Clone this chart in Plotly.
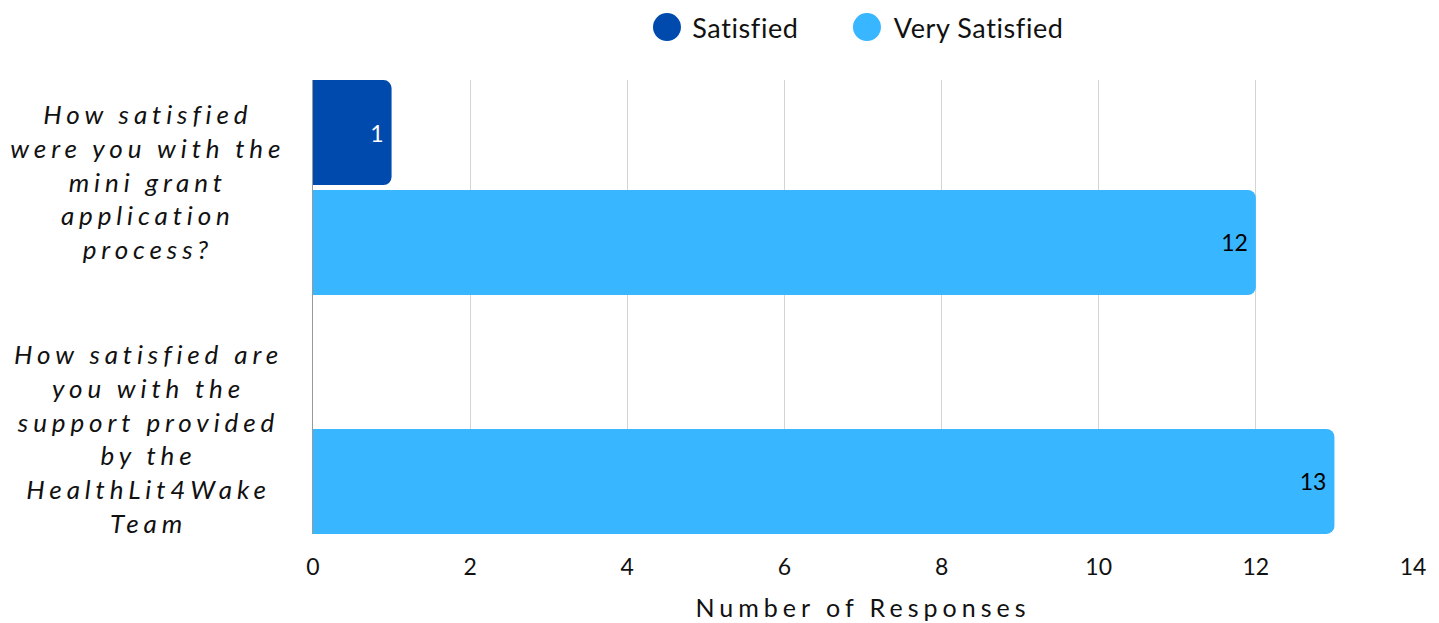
import plotly.graph_objects as go

# ---- data ----
categories = [
    "How satisfied were you with the mini grant application process?",
    "How satisfied are you with the support provided by the HealthLit4Wake Team",
]
category_labels = [
    "How satisfied<br>were you with the<br>mini grant<br>application<br>process?",
    "How satisfied are<br>you with the<br>support provided<br>by the<br>HealthLit4Wake<br>Team",
]
series_names = ["Satisfied", "Very Satisfied"]
satisfied = [1, 0]
very_satisfied = [12, 13]
x_tick_values = [0, 2, 4, 6, 8, 10, 12, 14]
axis_title = "Number of Responses"

colors = ["#004AAD", "#38B6FF"]
text_colors = ["white", "black"]
FONT = "Lato"

fig = go.Figure()
for name, vals, col, tcol in zip(series_names, [satisfied, very_satisfied], colors, text_colors):
    fig.add_trace(go.Bar(
        y=categories, x=vals, orientation="h", name=name,
        marker=dict(color=col, cornerradius=8, line=dict(width=0)),
        text=[str(v) if v else "" for v in vals],
        textposition="inside", insidetextanchor="end", textangle=0,
        textfont=dict(color=tcol, size=23, family=FONT),
        showlegend=False, hoverinfo="x+name",
    ))

annotations = []
# category labels (centered, italic)
label_shift = [6, -12]
for cat, lab, ys in zip(categories, category_labels, label_shift):
    annotations.append(dict(
        xref="paper", yref="y", x=-0.150, y=cat, text=lab, showarrow=False,
        xanchor="center", yanchor="middle", align="center", yshift=ys,
        font=dict(family=FONT, size=26, color="#111", style="italic"),
    ))

# manual legend with circles
shapes = []
legend_circle_x = [0.3218, 0.5036]
legend_text_x = [0.3455, 0.5300]
legend_y = 1.1165
for name, col, cx, tx in zip(series_names, colors, legend_circle_x, legend_text_x):
    shapes.append(dict(
        type="circle", xref="paper", yref="paper",
        xsizemode="pixel", ysizemode="pixel", xanchor=cx, yanchor=legend_y,
        x0=-14, x1=14, y0=-14, y1=14, fillcolor=col, line=dict(width=0),
    ))
    annotations.append(dict(
        xref="paper", yref="paper", x=tx, y=legend_y, text=name, showarrow=False,
        xanchor="left", yanchor="middle",
        font=dict(family=FONT, size=27, color="#111"),
    ))

fig.update_layout(
    width=1439, height=623,
    margin=dict(l=313, r=26, t=80, b=89, autoexpand=False),
    paper_bgcolor="white", plot_bgcolor="white",
    font=dict(family=FONT, color="#111"),
    barmode="group", bargap=0.08, bargroupgap=0.045,
    annotations=annotations, shapes=shapes,
    xaxis=dict(
        range=[0, 14], tickvals=x_tick_values, ticktext=[str(v) for v in x_tick_values],
        showgrid=True, gridcolor="#d4d4d4", gridwidth=1,
        zeroline=False, showline=False, automargin=False,
        ticks="outside", ticklen=12, tickcolor="rgba(0,0,0,0)",
        tickfont=dict(size=23, color="#111", family=FONT),
        title=dict(text=axis_title, font=dict(size=25, color="#111", family=FONT), standoff=20),
    ),
    yaxis=dict(
        type="category", categoryarray=categories, range=[1.45, -0.45],
        showticklabels=False, showgrid=False, zeroline=False, automargin=False,
        showline=True, linecolor="#999999", linewidth=1, layer="below traces",
    ),
)

css = ('g.annotation[data-index="0"] text, g.annotation[data-index="1"] text'
       '{letter-spacing:4.9px;} '
       'g.annotation[data-index="2"] text, g.annotation[data-index="3"] text'
       '{letter-spacing:0.6px;} .xtitle{letter-spacing:5px;}')
post = ("var s=document.createElement('style');s.textContent='" + css +
        "';document.head.appendChild(s);")

fig.write_html("out.html", post_script=post, config={"displayModeBar": False})
